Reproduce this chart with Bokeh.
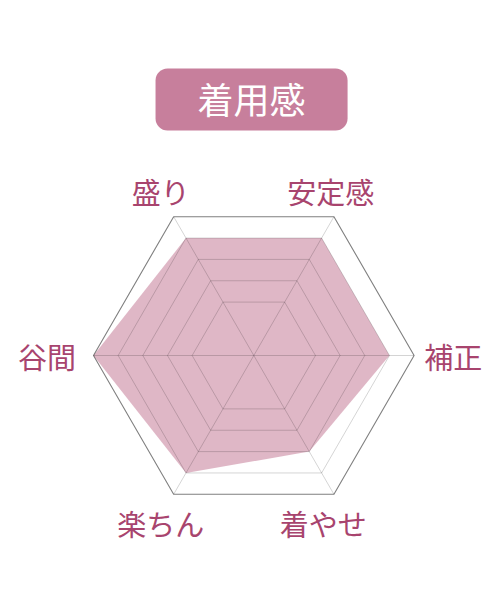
import numpy as np
from bokeh.plotting import figure
from bokeh.models import Range1d
from bokeh.core.properties import value
from bokeh.embed import file_html
from bokeh.resources import INLINE

# ---- data ----
title = "着用感"
categories = ["盛り", "安定感", "補正", "着やせ", "楽ちん", "谷間"]
values = [4, 4, 4, 3, 4, 5]
tick_values = [1, 2, 3, 4, 5]
scale_min, scale_max = -1.5, 5

# ---- layout ----
axis_angles = [120, 60, 0, 300, 240, 180]
label_r = [1.18, 1.135, 1.245, 1.134, 1.196, 1.29]
label_ang = [119.5, 65, 0, 292.5, 241, 180]

W, H = 484, 584
S = 160.3
cx_px, cy_px = 253.3, 355

FONT = value("Noto Sans CJK JP")
LABEL_COLOR = "#a8446e"

p = figure(width=W, height=H,
           x_range=Range1d(-cx_px / S, (W - cx_px) / S),
           y_range=Range1d((cy_px - H) / S, cy_px / S),
           x_axis_type=None, y_axis_type=None,
           output_backend="svg", toolbar_location=None, min_border=0)
p.grid.visible = False
p.outline_line_color = None
p.background_fill_color = "white"
p.border_fill_color = "white"

th = np.deg2rad(axis_angles)


def frac(v):
    return (v - scale_min) / (scale_max - scale_min)


# data polygon
rv = np.array([frac(v) for v in values])
p.patch(list(rv * np.cos(th)), list(rv * np.sin(th)),
        fill_color="#c27492", fill_alpha=0.52, line_color=None)

# grid hexagons (drawn translucent over the fill)
for t in tick_values:
    r = frac(t)
    xs = list(r * np.cos(th)) + [r * np.cos(th[0])]
    ys = list(r * np.sin(th)) + [r * np.sin(th[0])]
    outer = t == tick_values[-1]
    p.line(xs, ys, line_color="black", line_alpha=0.5 if outer else 0.17,
           line_width=1.1 if outer else 1.0)

# spokes
p.segment(x0=[0] * 6, y0=[0] * 6, x1=list(np.cos(th)), y1=list(np.sin(th)),
          line_color="black", line_alpha=0.17, line_width=1)

# category labels
la = np.deg2rad(label_ang)
p.text(x=list(np.array(label_r) * np.cos(la)), y=list(np.array(label_r) * np.sin(la)),
       text=categories, text_font=FONT, text_font_size="29px",
       text_color=LABEL_COLOR, text_align="center", text_baseline="middle")

# title box
tx, ty, tw, tht = -0.014, 1.597, 1.198, 0.387
p.rect(x=[tx], y=[ty], width=[tw], height=[tht], fill_color="#c77f9c",
       line_color=None, border_radius=12)
p.text(x=[tx], y=[ty + 0.01], text=[title], text_font=FONT, text_font_size="36px",
       text_color="white", text_align="center", text_baseline="middle")

open("out.html", "w").write(file_html(p, INLINE))
